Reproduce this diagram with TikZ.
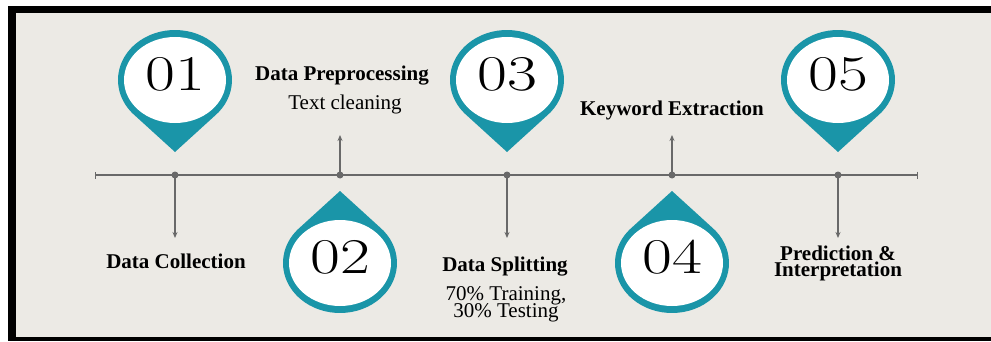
\documentclass[tikz,border=0pt]{standalone}
\usepackage{fontspec}
\newfontfamily\labelfont{Liberation Serif}
\usetikzlibrary{arrows.meta, positioning}
\definecolor{pinteal}{RGB}{26,149,168}
\definecolor{paper}{RGB}{236,234,229}
\definecolor{linegray}{RGB}{105,105,105}
\newcommand\tightlines{\setlength{\lineskiplimit}{-20pt}}

\begin{document}
\begin{tikzpicture}[x=1pt, y=1pt,
  pin/.pic={
    \fill[pinteal] (0,-72) -- (-46:57pt and 50pt)
      arc[start angle=-46, end angle=226, x radius=57pt, y radius=50pt] -- cycle;
    \fill[white] (0,0) ellipse[x radius=51pt, y radius=43pt];
  },
  num/.style={font=\fontsize{50}{50}\selectfont, xscale=1.3, inner sep=0pt},
  title/.style={font=\labelfont\bfseries\fontsize{21}{16}\selectfont\tightlines, align=center, inner sep=1pt},
  note/.style={font=\labelfont\fontsize{21}{17}\selectfont\tightlines, align=center, inner sep=1pt},
  timeline/.style={linegray, line width=2pt},
  arr/.style={linegray, line width=1.5pt, -{Stealth[length=6pt, width=5pt]}}]

  % frame and paper
  \fill[white] (0,0) rectangle (991,341);
  \fill[black] (8,0) rectangle (991,335);
  \fill[paper] (16,4) rectangle (991,328);
  \useasboundingbox (0,0) rectangle (991,341);

  % pins, numbers and stops on the line
  \foreach \n/\px/\dir in {1/175/1, 2/340/-1, 3/507/1, 4/672/-1, 5/838/1} {
    \pgfmathsetmacro\cy{169.5+91.5*\dir}
    \pgfmathsetmacro\ey{154.5-51.5*\dir}
    \pic[yscale=\dir] at (\px,\cy) {pin};
    \node[num] (num\n) at (\px,\cy+6) {0\n};
    \coordinate (dot\n) at (\px,166);
    \coordinate (end\n) at (\px,\ey);
  }

  \coordinate (tlL) at (95,166);
  \coordinate (tlR) at (918,166);
  \draw[timeline, {Bar[width=7pt, line width=1pt]}-{Bar[width=7pt, line width=1pt]}] (tlL) -- (tlR);

  \foreach \n in {1,...,5} {
    \draw[arr] (dot\n) -- (end\n);
    \fill[linegray] (dot\n) circle[radius=3.5pt];
  }

  % labels
  \node[title] (collect) at (176,80) {Data Collection};
  \node[title] (prep) at (342,265) {Data Preprocessing};
  \node[note] (clean) at (345,237) {Text cleaning};
  \node[title] (split) at (505,74) {Data Splitting};
  \node[note] (ratio) at (506,37) {70\% Training,\\30\% Testing};
  \node[title] (keyword) at (672,231) {Keyword Extraction};
  \node[title] (predict) at (838,78) {Prediction \&\\Interpretation};
\end{tikzpicture}
\end{document}
